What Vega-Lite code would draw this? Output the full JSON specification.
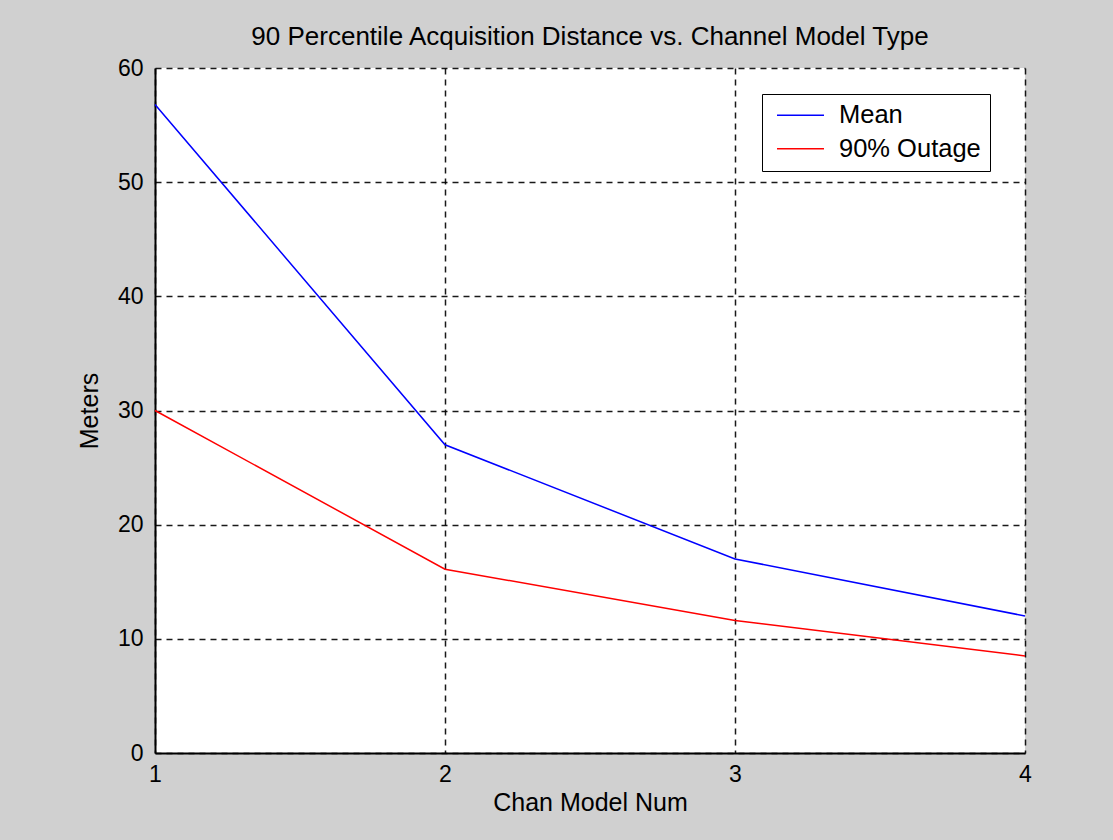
{
  "$schema": "https://vega.github.io/schema/vega-lite/v6.json",
  "width": 870,
  "height": 685,
  "autosize": {"type": "none"},
  "padding": {"left": 155, "top": 68, "right": 88, "bottom": 87},
  "background": "#d0d0d0",
  "title": {
    "text": "90 Percentile Acquisition Distance vs. Channel Model Type",
    "font": "Liberation Sans",
    "fontSize": 26,
    "fontWeight": "normal",
    "color": "#000000",
    "anchor": "middle",
    "offset": 7
  },
  "config": {
    "view": {"fill": "#ffffff", "stroke": null},
    "axis": {
      "labelFont": "Liberation Sans",
      "titleFont": "Liberation Sans",
      "labelFontSize": 23,
      "titleFontSize": 25,
      "titleFontWeight": "normal",
      "labelColor": "#000000",
      "titleColor": "#000000",
      "domainColor": "#000000",
      "domainWidth": 2,
      "ticks": false,
      "labelFlush": false,
      "grid": true,
      "gridColor": "#000000",
      "gridDash": [6, 5],
      "gridWidth": 1.5,
      "gridOpacity": 0.9
    },
    "legend": {
      "labelFont": "Liberation Sans",
      "labelFontSize": 25.5,
      "labelColor": "#000000"
    }
  },
  "data": {
    "values": [
      {"model": 1, "value": 56.8, "series": "Mean"},
      {"model": 2, "value": 27.0, "series": "Mean"},
      {"model": 3, "value": 17.0, "series": "Mean"},
      {"model": 4, "value": 12.0, "series": "Mean"},
      {"model": 1, "value": 30.0, "series": "90% Outage"},
      {"model": 2, "value": 16.1, "series": "90% Outage"},
      {"model": 3, "value": 11.6, "series": "90% Outage"},
      {"model": 4, "value": 8.5, "series": "90% Outage"}
    ]
  },
  "mark": {"type": "line", "strokeWidth": 1.5},
  "encoding": {
    "x": {
      "field": "model",
      "type": "quantitative",
      "title": "Chan Model Num",
      "scale": {"domain": [1, 4], "nice": false, "zero": false},
      "axis": {"values": [1, 2, 3, 4], "format": "d", "labelPadding": 10, "titlePadding": 4}
    },
    "y": {
      "field": "value",
      "type": "quantitative",
      "title": "Meters",
      "scale": {"domain": [0, 60], "nice": false},
      "axis": {"values": [0, 10, 20, 30, 40, 50, 60], "labelPadding": 12, "titlePadding": 15}
    },
    "color": {
      "field": "series",
      "type": "nominal",
      "scale": {"domain": ["Mean", "90% Outage"], "range": ["#0000ff", "#ff0000"]},
      "legend": {
        "title": null,
        "orient": "none",
        "legendX": 607,
        "legendY": 26,
        "fillColor": "#ffffff",
        "strokeColor": "#000000",
        "padding": 8.5,
        "symbolOffset": 17.25,
        "symbolType": "M-2,0H2",
        "symbolSize": 552,
        "symbolStrokeWidth": 1.5,
        "labelOffset": 25.75,
        "labelLimit": 300,
        "rowPadding": 6.5
      }
    }
  }
}
